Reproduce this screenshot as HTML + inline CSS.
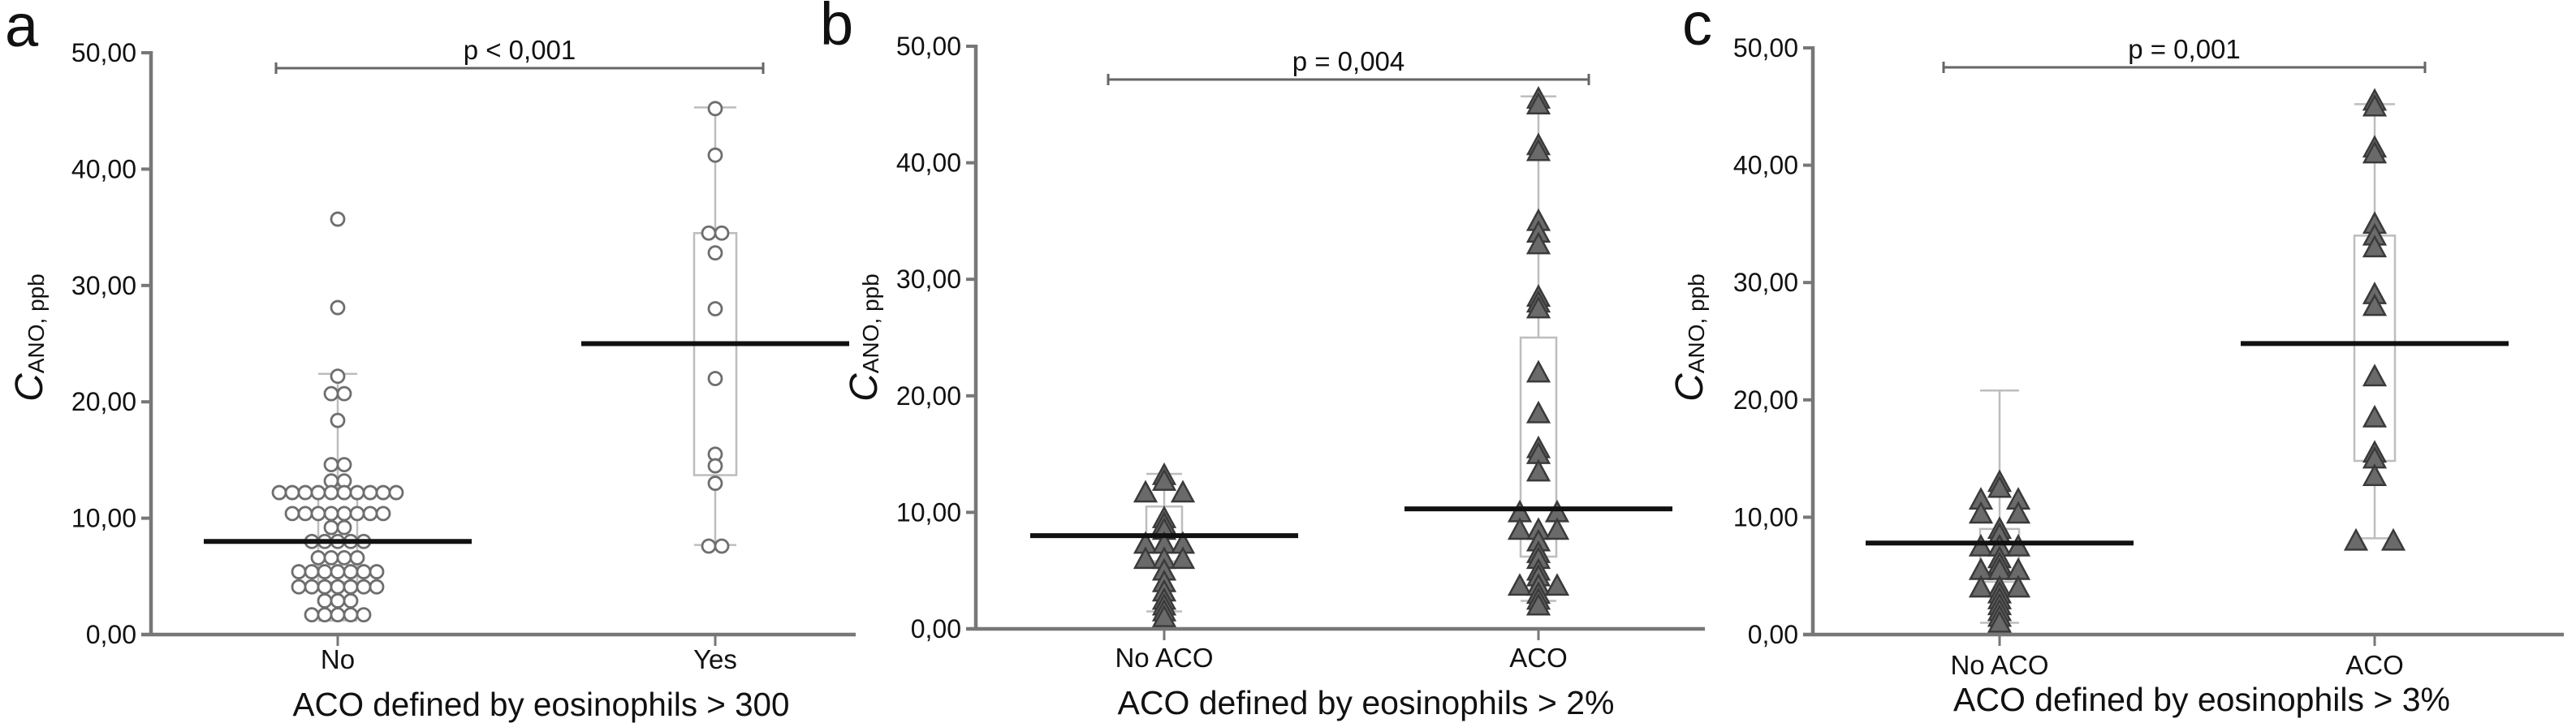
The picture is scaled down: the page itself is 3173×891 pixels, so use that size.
<!DOCTYPE html>
<html><head><meta charset="utf-8"><title>CANO by ACO definition</title>
<style>
html,body{margin:0;padding:0;background:#fff;}
svg{display:block;font-family:"Liberation Sans",Arial,sans-serif;}
</style></head>
<body>
<svg id="fig" width="3173" height="891" viewBox="0 0 3173 891" xmlns="http://www.w3.org/2000/svg"></svg>
<script>
// ---- data ----
const tickValues = [0, 10, 20, 30, 40, 50];
const tickLabels = ["0,00", "10,00", "20,00", "30,00", "40,00", "50,00"];
const aCategories = ["No", "Yes"];
const bCategories = ["No ACO", "ACO"];
const cCategories = ["No ACO", "ACO"];
const aNoValues = [35.7, 28.1, 22.2, 20.7, 20.7, 18.4, 14.6, 14.6, 13.2, 13.2,
  12.2,12.2,12.2,12.2,12.2,12.2,12.2,12.2,12.2,12.2,
  10.4,10.4,10.4,10.4,10.4,10.4,10.4,10.4, 9.2, 9.2,
  8.0,8.0,8.0,8.0,8.0, 6.6,6.6,6.6,6.6, 5.4,5.4,5.4,5.4,5.4,5.4,5.4,
  4.1,4.1,4.1,4.1,4.1,4.1,4.1, 2.9,2.9,2.9, 1.7,1.7,1.7,1.7,1.7];
const aYesValues = [45.2, 41.2, 34.5, 34.5, 32.8, 28.0, 22.0, 15.5, 14.5, 13.0, 7.6, 7.6];
const bNoValues = [13.2, 12.7, 11.7, 11.7, 9.5, 9.0, 8.5, 7.3, 7.3, 7.3, 6.0, 6.0, 6.0, 5.0, 4.0, 3.2, 2.5, 2.0, 1.5, 1.0];
const bAcoValues = [45.5, 45.0, 41.5, 41.0, 35.0, 34.0, 33.0, 28.5, 28.0, 27.5, 22.0, 18.5, 15.5, 15.0, 13.5,
  10.0, 10.0, 8.5, 8.5, 8.5, 7.5, 6.5, 6.0, 5.0, 4.5, 3.7, 3.7, 3.7, 3.0, 2.5, 2.0];
const cNoValues = [13.0, 12.5, 11.5, 11.5, 10.3, 10.3, 9.0, 8.5, 7.5, 7.5, 7.5, 6.5, 6.0, 5.5, 5.5, 5.5,
  4.0, 4.0, 4.0, 3.5, 3.0, 2.5, 2.0, 1.5, 1.0];
const cAcoValues = [45.5, 45.0, 41.5, 41.0, 35.0, 34.0, 33.0, 29.0, 28.0, 22.0, 18.5, 15.5, 15.0, 13.5, 8.0, 8.0];
// box stats: [whisker low, q1, q3, whisker high]
const aNoBox = [1.2, 4.5, 12.0, 22.4];
const aYesBox = [7.7, 13.7, 34.5, 45.3];
const bNoBox = [1.5, 5.8, 10.5, 13.3];
const bAcoBox = [2.4, 6.2, 25.0, 45.7];
const cNoBox = [1.0, 4.5, 9.0, 20.8];
const cAcoBox = [8.2, 14.8, 34.0, 45.2];
const aMedians = [8.0, 25.0];
const bMedians = [8.0, 10.3];
const cMedians = [7.8, 24.8];
const pLabels = ["p < 0,001", "p = 0,004", "p = 0,001"];
const xTitles = ["ACO defined by eosinophils > 300", "ACO defined by eosinophils > 2%", "ACO defined by eosinophils > 3%"];
const panelLetters = ["a", "b", "c"];

// ---- layout ----
const NS = "http://www.w3.org/2000/svg";
const svg = document.getElementById("fig");
function mk(tag, attrs, parent) {
  const e = document.createElementNS(NS, tag);
  for (const k in attrs) e.setAttribute(k, attrs[k]);
  (parent || svg).appendChild(e);
  return e;
}
const panels = [
  {letter: panelLetters[0], letterX: 6, letterY: 57, axisX: 186, y0: 782, y50: 65, xEnd: 1054,
   centers: [416, 881], cats: aCategories, catY: 824, titleX: 52, bracket: [340, 940, 84], pLabel: pLabels[0],
   xTitle: xTitles[0], xTitleY: 882, groups: [aNoValues, aYesValues], boxes: [aNoBox, aYesBox], boxHW: [24, 26],
   medians: aMedians, marker: "circle"},
  {letter: panelLetters[1], letterX: 1010, letterY: 55, axisX: 1202, y0: 775, y50: 57, xEnd: 2100,
   centers: [1434, 1895], cats: bCategories, catY: 822, titleX: 1080, bracket: [1365, 1957, 98], pLabel: pLabels[1],
   xTitle: xTitles[1], xTitleY: 880, groups: [bNoValues, bAcoValues], boxes: [bNoBox, bAcoBox], boxHW: [22, 22],
   medians: bMedians, marker: "tri"},
  {letter: panelLetters[2], letterX: 2072, letterY: 55, axisX: 2233, y0: 782, y50: 59, xEnd: 3158,
   centers: [2463, 2925], cats: cCategories, catY: 831, titleX: 2097, bracket: [2394, 2987, 83], pLabel: pLabels[2],
   xTitle: xTitles[2], xTitleY: 876, groups: [cNoValues, cAcoValues], boxes: [cNoBox, cAcoBox], boxHW: [24, 25],
   medians: cMedians, marker: "tri"}
];

panels.forEach((p, pi) => {
  const g = mk("g", {});
  
  
  const yS = v => p.y0 - (p.y0 - p.y50) * v / 50;

  const letter = mk("text", {x: p.letterX, y: p.letterY, "font-size": 74, fill: "#111"}, g);
  
  
  letter.textContent = p.letter;

  // y axis
  const yAxis = mk("line", {x1: p.axisX, y1: p.y50 - 2, x2: p.axisX, y2: p.y0, stroke: "#777", "stroke-width": 4.5}, g);
  
  
  tickValues.forEach((v, i) => {
    const t = mk("line", {x1: p.axisX - 12, y1: yS(v), x2: p.axisX, y2: yS(v), stroke: "#777", "stroke-width": 4}, g);
    
    
    const l = mk("text", {x: p.axisX - 18, y: yS(v) + 11, "font-size": 32, "text-anchor": "end", fill: "#111"}, g);
    
    
    l.textContent = tickLabels[i];
  });
  // y title
  const yt = mk("text", {transform: `translate(${p.titleX},416) rotate(-90)`, "text-anchor": "middle", fill: "#111"}, g);
  
  
  const t1 = mk("tspan", {"font-size": 48, "font-style": "italic"}, yt); t1.textContent = "C";
  const t2 = mk("tspan", {"font-size": 28, dy: 2}, yt); t2.textContent = "ANO, ppb";

  // x axis
  const xAxis = mk("line", {x1: p.axisX - 12, y1: p.y0, x2: p.xEnd, y2: p.y0, stroke: "#777", "stroke-width": 4.5}, g);
  
  
  p.cats.forEach((c, ci) => {
    const cx = p.centers[ci];
    const t = mk("line", {x1: cx, y1: p.y0, x2: cx, y2: p.y0 + 14, stroke: "#777", "stroke-width": 3}, g);
    
    
    const l = mk("text", {x: cx, y: p.catY, "font-size": 33, "text-anchor": "middle", fill: "#111"}, g);
    
    
    l.textContent = c;
  });
  const xt = mk("text", {x: (p.centers[0] + p.centers[1]) / 2 + 18, y: p.xTitleY, "font-size": 41, "text-anchor": "middle", fill: "#111", textLength: 612, lengthAdjust: "spacingAndGlyphs"}, g);
  
  
  xt.textContent = p.xTitle;

  // significance bracket
  const [bx1, bx2, by] = p.bracket;
  const br = mk("path", {d: `M${bx1},${by - 7}V${by + 7}M${bx1},${by}H${bx2}M${bx2},${by - 7}V${by + 7}`, stroke: "#666", "stroke-width": 3, fill: "none"}, g);
  
  
  const pt = mk("text", {x: (bx1 + bx2) / 2, y: by - 11, "font-size": 33, "text-anchor": "middle", fill: "#111"}, g);
  
  
  pt.textContent = p.pLabel;

  // boxes
  p.boxes.forEach((b, bi) => {
    const cx = p.centers[bi], hw = p.boxHW[bi];
    const bg = mk("g", {stroke: "#bdbdbd", "stroke-width": 2.5, fill: "none"}, g);
    
    
    mk("line", {x1: cx, y1: yS(b[0]), x2: cx, y2: yS(b[1])}, bg);
    mk("line", {x1: cx, y1: yS(b[2]), x2: cx, y2: yS(b[3])}, bg);
    mk("line", {x1: cx - hw, y1: yS(b[0]), x2: cx + hw, y2: yS(b[0])}, bg);
    mk("line", {x1: cx - hw, y1: yS(b[3]), x2: cx + hw, y2: yS(b[3])}, bg);
    mk("rect", {x: cx - hw, y: yS(b[2]), width: 2 * hw, height: yS(b[1]) - yS(b[2])}, bg);
  });

  // points
  p.groups.forEach((vals, gi) => {
    const cx = p.centers[gi];
    const counts = {};
    vals.forEach(v => { counts[v] = (counts[v] || 0) + 1; });
    const seen = {};
    vals.forEach(v => {
      const n = counts[v], i = seen[v] = (seen[v] === undefined ? 0 : seen[v] + 1);
      let off;
      if (p.marker === "circle") off = (i - (n - 1) / 2) * 16;
      else if (n % 2 === 1) off = (i - (n - 1) / 2) * 23;
      else off = (i % 2 ? 1 : -1) * 23 * (Math.floor(i / 2) + 1);
      const x = cx + off, y = yS(v);
      let m;
      if (p.marker === "circle") {
        m = mk("circle", {cx: x, cy: y, r: 8, fill: "#fff", stroke: "#6e6e6e", "stroke-width": 2.8}, g);
      } else {
        m = mk("path", {d: `M${x},${y - 13}L${x + 13},${y + 11}L${x - 13},${y + 11}Z`, fill: "#6a6a6a", stroke: "#3a3a3a", "stroke-width": 2.5}, g);
      }
      
      
    });
  });

  // medians
  p.medians.forEach((md, mi) => {
    const cx = p.centers[mi];
    const ml = mk("line", {x1: cx - 165, y1: yS(md), x2: cx + 165, y2: yS(md), stroke: "#111", "stroke-width": 6}, g);
    
    
  });
});
</script>
</body></html>
